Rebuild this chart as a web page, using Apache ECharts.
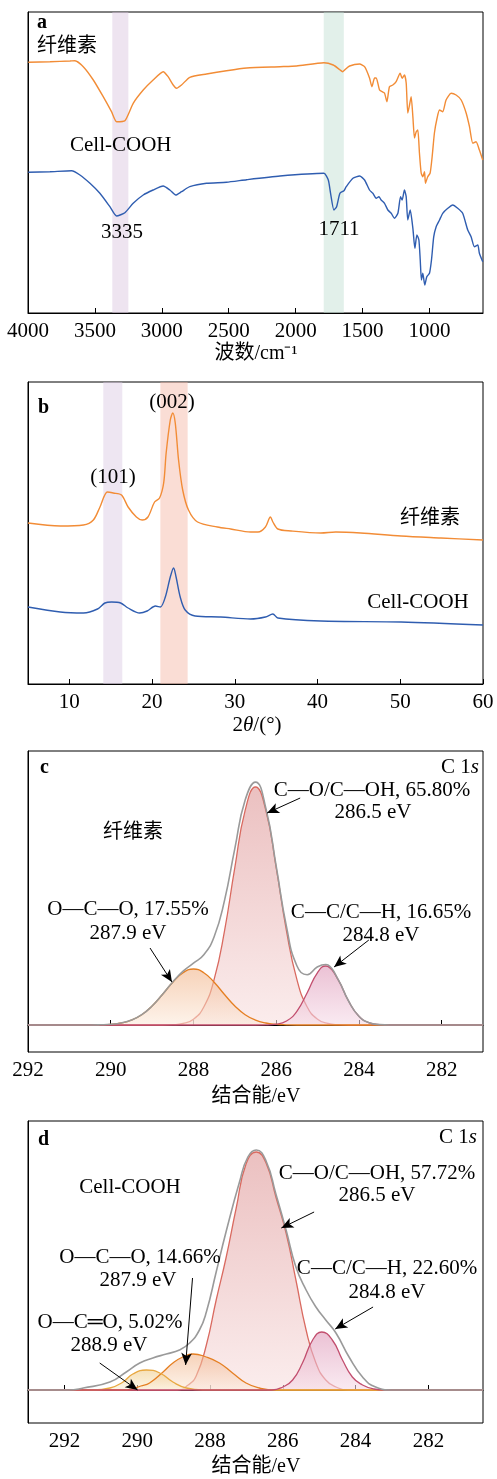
<!DOCTYPE html>
<html><head><meta charset="utf-8">
<script src="https://cdn.jsdelivr.net/npm/echarts@6/dist/echarts.min.js"></script>
<style>html,body{margin:0;padding:0;background:#fff}#c{width:497px;height:1479px}</style>
</head><body><div id="c"></div>
<script>
// ---------- tick labels ----------
const ftirTicks = [4000,3500,3000,2500,2000,1500,1000];
const xrdTicks = [10,20,30,40,50,60];
const xpsTicks = [292,290,288,286,284,282];

// ---------- (a) FTIR: [wavenumber, intensity] ----------
const ftirCellulose = [[3998,250.7],[3836,251.3],[3687,252],[3649,252.3],[3587,246.3],[3512,233],[3438,216.3],[3376,201.3],[3338,191.3],[3276,192.3],[3214,209.7],[3139,223],[3065,233],[2990,241.3],[2953,236.3],[2915,228],[2890,224.7],[2853,228],[2791,235.7],[2666,239],[2517,242.3],[2366,245],[2117,246.3],[1993,247],[1789,250.3],[1719,248],[1672,243.5],[1649,241.3],[1634,243],[1597,247],[1522,249],[1485,246.3],[1448,235],[1430,226.3],[1410,235],[1398,235],[1373,223],[1353,221.3],[1336,220],[1318,211.3],[1299,226.3],[1274,228],[1249,231.3],[1219,239.7],[1204,234.7],[1187,238],[1174,230],[1162,200],[1149,208],[1137,216.3],[1124,196.3],[1112,175],[1099,181.3],[1087,183],[1075,160],[1062,140],[1050,136.3],[1037,141.3],[1030,129.7],[1013,136.3],[995,140],[980,156.3],[963,180],[943,195],[925,203],[901,201.3],[876,213],[838,219.7],[801,218],[763,213],[726,200],[701,186.3],[676,169.7],[652,171.3],[627,163],[602,153]];
const ftirCellCOOH = [[3998,140.7],[3836,141.3],[3674,142.3],[3612,138],[3537,129.7],[3463,119.7],[3388,106.3],[3338,97],[3276,100.3],[3214,109.7],[3139,118],[3065,123],[2990,127],[2940,123],[2896,118],[2853,121.3],[2791,126.3],[2666,129.7],[2517,130.7],[2366,133.3],[2117,137],[1789,139.7],[1756,133],[1739,119.7],[1714,103],[1694,106.3],[1669,119.7],[1639,122.3],[1622,126.3],[1572,134.7],[1522,137],[1485,133],[1448,123],[1423,119.7],[1398,114.7],[1378,116.3],[1361,113],[1336,109.7],[1311,103],[1286,99.7],[1261,94.7],[1236,99.7],[1216,116.3],[1204,113],[1187,123],[1174,116.3],[1162,93],[1144,103],[1124,84.7],[1109,64.7],[1094,78],[1079,73],[1069,53],[1060,33],[1050,39.7],[1035,28],[1020,36.3],[1000,39.7],[985,53],[968,76.3],[950,86.3],[925,93],[901,99.7],[863,104.7],[826,108],[789,104.7],[752,99.7],[714,83],[689,76.3],[664,66.3],[639,68],[627,59.7],[602,51.3]];
const ftirBands = [[3370,3250],[1790,1640]];

// ---------- (b) XRD: [2theta, intensity] ----------
const xrdCellulose = [[5,161],[8.9,158],[11.7,159],[12.9,164],[13.7,177],[14.6,192],[15.3,191],[16.3,189],[17.1,177],[18.1,167],[18.8,164],[19.5,167],[20.3,182],[20.9,186],[21.4,201],[21.7,231],[22.2,264],[22.5,271],[22.8,261],[23.2,224],[23.7,194],[24.4,174],[25.5,162],[27.9,157],[29.5,155],[31.9,152],[32.8,152],[33.7,157],[34.3,167],[34.6,162],[35.2,155],[36.8,153],[40.4,151],[42.2,152],[45.2,151],[50.1,148],[54.9,146],[60,144]];
const xrdCellCOOH = [[5,77],[8.9,72],[11.7,71],[13.4,75],[14.3,81],[15.1,82],[16.2,81],[17.1,76],[18.5,71],[19.4,73],[20.4,78],[21.0,77],[21.6,87],[22.2,107],[22.6,116],[22.9,107],[23.4,87],[24.0,74],[25.2,68],[28.3,67],[31.9,65],[33.7,67],[34.6,70],[35.2,66],[40.4,63],[50.1,62],[60,59]];
const xrdBands = [[14.1,16.4],[21.0,24.3]];

// ---------- (c) XPS C1s cellulose: [binding energy, counts above baseline] ----------
const xpsC_OCO = [[292,0],[290.5,0],[290.25,0.2],[290,0.7],[289.75,2],[289.5,4.9],[289.25,10.3],[289,19],[288.75,30.5],[288.5,42.7],[288.25,52.3],[288,56],[287.75,52.3],[287.5,42.7],[287.25,30.5],[287,19],[286.75,10.3],[286.5,4.9],[286.25,2],[286,0.7],[285.75,0.2],[285.5,0],[281,0]];
const xpsC_CO = [[292,0],[288.75,0],[288.5,0.3],[288.25,1.5],[288,5.8],[287.75,18],[287.5,45.6],[287.25,93.9],[287,157.4],[286.75,214.6],[286.5,238],[286.25,214.6],[286,157.4],[285.75,93.9],[285.5,45.6],[285.25,18],[285,5.8],[284.75,1.5],[284.5,0.3],[284.25,0],[281,0]];
const xpsC_CC = [[292,0],[286.5,0],[286.25,0.1],[286,0.8],[285.75,4],[285.5,13.7],[285.25,32.3],[285,52.4],[284.8,59],[284.75,58.6],[284.5,45.1],[284.25,24],[284,8.8],[283.75,2.2],[283.5,0.4],[283.25,0],[281,0]];
const xpsC_env = [[292,0],[290.75,0],[290.5,0],[290.25,0.2],[290,0.7],[289.75,2],[289.5,4.9],[289.25,10.3],[289,19],[288.75,30.5],[288.5,43],[288.25,53.8],[288,61.8],[287.75,70.3],[287.5,88.3],[287.25,124.4],[287,176.4],[286.75,224.9],[286.5,242.9],[286.25,216.7],[286,158.9],[285.75,98.1],[285.5,59.3],[285.25,50.3],[285,58.2],[284.8,60.5],[284.75,60.1],[284.5,45.4],[284.25,24],[284,8.8],[283.75,2.2],[283.5,0.4],[283.25,0],[281,0]];
const arrowsC = [[[289.05,77],[288.52,43]],[[285.42,227],[286.22,212]],[[283.76,85],[284.60,58]]];

// ---------- (d) XPS C1s Cell-COOH ----------
const xpsD_OCdO = [[293,0],[291.2,0],[290.75,2],[290.39,8],[290.12,16],[289.75,20],[289.38,17],[289.02,8],[288.65,2],[288.2,0],[280.5,0]];
const xpsD_OCO = [[293,0],[290.3,0],[289.9,4],[289.66,7],[289.29,18],[289.02,27],[288.75,33],[288.47,36],[288.10,33],[287.74,27],[287.38,17],[287.01,7],[286.64,2],[286.2,0],[280.5,0]];
const xpsD_CO = [[293,0],[288.9,0],[288.6,5],[288.38,14],[288.10,45],[287.83,90],[287.56,132],[287.28,182],[287.01,226],[286.73,238],[286.46,227],[286.19,193],[285.91,157],[285.64,110],[285.36,60],[285.09,27],[284.82,10],[284.54,3],[284.2,0],[280.5,0]];
const xpsD_CC = [[293,0],[286.3,0],[286.0,3],[285.73,10],[285.46,27],[285.18,50],[284.93,58],[284.64,50],[284.36,30],[284.09,13],[283.81,5],[283.5,1],[283.2,0],[280.5,0]];
const xpsD_env = [[293,0],[291.9,0],[291.48,2],[290.75,8],[290.30,18],[289.93,27],[289.57,32],[289.20,36],[288.84,40],[288.56,47],[288.29,60],[288.10,78],[287.83,118],[287.56,158],[287.19,208],[286.96,233],[286.73,240],[286.46,229],[286.19,196],[285.91,160],[285.64,123],[285.36,100],[285.09,83],[284.82,70],[284.54,57],[284.18,33],[283.81,13],[283.45,3],[283.0,0],[280.5,0]];
const arrowsD = [[[288.48,112],[288.67,25]],[[291.03,27],[289.99,0]],[[285.14,178],[286.04,162]],[[283.52,83],[284.56,61]]];

// ---------- styling ----------
const FONT = '"Liberation Serif","Noto Sans CJK SC",serif';
const ORANGE = '#F28C36', BLUE = '#2F5DB0';
const chart = echarts.init(document.getElementById('c'), null, {renderer:'canvas'});

function grad(top, bot){ return new echarts.graphic.LinearGradient(0,0,0,1,[{offset:0,color:top},{offset:1,color:bot}]); }
function xAx(i, min, max, ticks, inverse){
  return {type:'value', gridIndex:i, min, max, inverse,
    axisLine:{show:true, lineStyle:{color:'#000', width:1}},
    axisTick:{show:true, inside:true, length:5, lineStyle:{color:'#000'}, customValues:ticks},
    axisLabel:{show:true, color:'#000', fontSize:21, fontFamily:FONT, margin:8, customValues:ticks,
      formatter: v => String(v)},
    splitLine:{show:false}};
}
function yAx(i, min, max){
  return {type:'value', gridIndex:i, min, max, axisLine:{show:true, lineStyle:{color:'#000'}},
    axisTick:{show:false}, axisLabel:{show:false}, splitLine:{show:false}};
}
function ln(i, data, color, w, smooth, z){
  return {type:'line', xAxisIndex:i, yAxisIndex:i, data, showSymbol:false, symbol:'none',
    smooth, lineStyle:{color, width:w}, z:z||2, silent:true};
}
function comp(i, data, color, top, bot, z){
  const s = ln(i, data, color, 1.3, 0.5, z);
  s.areaStyle = {color: grad(top, bot), origin: 0};
  return s;
}
function bands(i, list, colors){
  return {type:'line', xAxisIndex:i, yAxisIndex:i, data:[], z:5, silent:true,
    markArea:{silent:true, data: list.map((b,k)=>[{xAxis:b[0], itemStyle:{color:colors[k]}},{xAxis:b[1]}])}};
}
function arrows(i, list){
  return {type:'line', xAxisIndex:i, yAxisIndex:i, data:[], z:6, silent:true,
    markLine:{silent:true, symbol:['none','arrow'], symbolSize:[8,12], animation:false,
      lineStyle:{color:'#000', width:1, type:'solid'}, label:{show:false},
      data: list.map(a=>[{coord:a[0]},{coord:a[1]}])}};
}
function txt(x, y, text, opt){
  opt = opt || {};
  const st = {text, fill:'#000', fontSize: opt.size||21, fontFamily:FONT, fontWeight: opt.bold?'bold':'normal',
    align: opt.align||'center', verticalAlign:'middle'};
  if (opt.rich) st.rich = opt.rich;
  return {type:'text', x, y, z:100, silent:true, style: st};
}
const richBase = {n:{fontSize:21, fontFamily:FONT, fill:'#000'}, i:{fontSize:21, fontFamily:FONT, fontStyle:'italic', fill:'#000'}};

const option = {
  animation:false,
  backgroundColor:'#fff',
  grid:[
    {left:28, right:14, top:12, height:301, show:true, borderColor:'#000', borderWidth:1, backgroundColor:'transparent'},
    {left:28, right:14, top:382, height:302, show:true, borderColor:'#000', borderWidth:1, backgroundColor:'transparent'},
    {left:28, right:14, top:751, height:301, show:true, borderColor:'#000', borderWidth:1, backgroundColor:'transparent'},
    {left:28, right:14, top:1121, height:302, show:true, borderColor:'#000', borderWidth:1, backgroundColor:'transparent'}
  ],
  xAxis:[
    xAx(0, 600, 4000, ftirTicks, true),
    xAx(1, 5, 60, xrdTicks, false),
    xAx(2, 281, 292, xpsTicks, true),
    xAx(3, 280.5, 293, xpsTicks, true)
  ],
  yAxis:[ yAx(0,0,301), yAx(1,0,302), yAx(2,-27,274), yAx(3,-33,269) ],
  series:[
    ln(0, ftirCellulose, ORANGE, 1.4, 0.2),
    ln(0, ftirCellCOOH, BLUE, 1.4, 0.2),
    bands(0, ftirBands, ['rgba(217,195,222,0.45)','rgba(191,222,208,0.45)']),
    ln(1, xrdCellulose, ORANGE, 1.4, 0.3),
    ln(1, xrdCellCOOH, BLUE, 1.4, 0.3),
    bands(1, xrdBands, ['rgba(217,199,226,0.45)','rgba(244,179,162,0.45)']),
    comp(2, xpsC_CO, '#D96A60', 'rgba(222,150,150,0.85)', 'rgba(248,224,224,0.85)', 2),
    comp(2, xpsC_OCO, '#E57F22', 'rgba(240,175,130,0.8)', 'rgba(252,234,218,0.8)', 3),
    comp(2, xpsC_CC, '#C24E6E', 'rgba(222,152,184,0.85)', 'rgba(246,220,232,0.85)', 3),
    ln(2, xpsC_env, '#9a9a9a', 1.6, 0.5, 4),
    arrows(2, arrowsC),
    comp(3, xpsD_CO, '#D96A60', 'rgba(222,150,150,0.85)', 'rgba(248,224,224,0.85)', 2),
    comp(3, xpsD_OCO, '#E57F22', 'rgba(240,175,130,0.8)', 'rgba(252,234,218,0.8)', 3),
    comp(3, xpsD_OCdO, '#E8A840', 'rgba(240,204,136,0.85)', 'rgba(251,240,218,0.85)', 3),
    comp(3, xpsD_CC, '#C24E6E', 'rgba(222,152,184,0.85)', 'rgba(246,220,232,0.85)', 3),
    ln(3, xpsD_env, '#9a9a9a', 1.6, 0.5, 4),
    arrows(3, arrowsD)
  ],
  graphic:[
    txt(37, 23, 'a', {align:'left', bold:true, size:20}),
    txt(37, 47, '纤维素', {align:'left', size:20}),
    txt(70, 145, 'Cell-COOH', {align:'left'}),
    txt(122, 232, '3335'),
    txt(339, 229, '1711'),
    txt(256, 354, '波数/cm⁻¹', {size:20}),
    txt(38, 408, 'b', {align:'left', bold:true, size:20}),
    txt(113, 477, '(101)'),
    txt(172, 402, '(002)'),
    txt(430, 519, '纤维素', {size:20}),
    txt(418, 602, 'Cell-COOH'),
    txt(257, 725, '{n|2}{i|θ}{n|/(°)}', {rich:richBase}),
    txt(40, 768, 'c', {align:'left', bold:true, size:20}),
    txt(479, 767, '{n|C 1}{i|s}', {align:'right', rich:richBase}),
    txt(133, 833, '纤维素', {size:20}),
    txt(128, 909, 'O—C—O, 17.55%'),
    txt(128, 933, '287.9 eV'),
    txt(372, 790, 'C—O/C—OH, 65.80%'),
    txt(373, 812, '286.5 eV'),
    txt(381, 912, 'C—C/C—H, 16.65%'),
    txt(381, 935, '284.8 eV'),
    txt(256, 1097, '结合能/eV', {size:20}),
    txt(38, 1140, 'd', {align:'left', bold:true, size:20}),
    txt(477, 1137, '{n|C 1}{i|s}', {align:'right', rich:richBase}),
    txt(130, 1187, 'Cell-COOH'),
    txt(140, 1257, 'O—C—O, 14.66%'),
    txt(138, 1280, '287.9 eV'),
    txt(110, 1322, 'O—C═O, 5.02%'),
    txt(109, 1345, '288.9 eV'),
    txt(377, 1173, 'C—O/C—OH, 57.72%'),
    txt(377, 1195, '286.5 eV'),
    txt(387, 1268, 'C—C/C—H, 22.60%'),
    txt(387, 1292, '284.8 eV'),
    txt(256, 1467, '结合能/eV', {size:20})
  ]
};
chart.setOption(option);
</script></body></html>
